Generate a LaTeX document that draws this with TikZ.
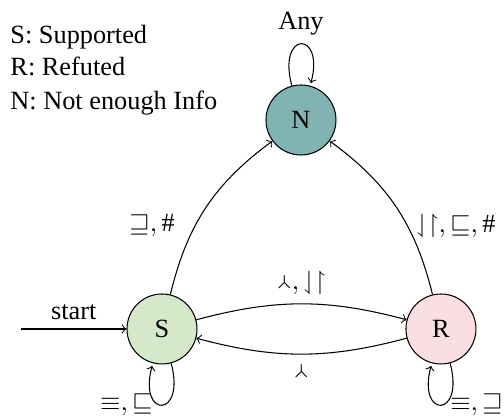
\documentclass[tikz,border=0pt]{standalone}
\usepackage{fontspec}
\setmainfont{Liberation Serif}
\usepackage{amsmath}
\usepackage{amssymb}
\usepackage{stmaryrd}

\definecolor{colS}{RGB}{214,232,202}
\definecolor{colR}{RGB}{250,222,226}
\definecolor{colN}{RGB}{128,179,177}

\newcommand{\negrel}{\Yup}
\newcommand{\altrel}{\downharpoonleft\upharpoonright}

\begin{document}
\begin{tikzpicture}[
  statenode/.style={circle, draw, minimum size=0.935cm, inner sep=0pt},
  legend/.style={anchor=base west, inner sep=0pt}
]
  \useasboundingbox (-2.164,-1.176) rectangle (4.569,4.395);

  % legend
  \node[legend] (legS) at (-2.031,3.817) {S: Supported};
  \node[legend] (legR) at (-2.031,3.380) {R: Refuted};
  \node[legend] (legN) at (-2.031,2.935) {N: Not enough Info};

  % states
  \node[statenode, fill=colS] (S) at (0,0) {S};
  \node[statenode, fill=colR] (R) at (3.727,0) {R};
  \node[statenode, fill=colN] (N) at (1.857,2.792) {N};
  \coordinate (start) at (-1.884,0);

  \draw[->] (start) -- node[above] {start} (S);
  \draw[->] (S) edge[bend left=15] node[above] {$\negrel, \altrel$} (R)
            (R) edge[bend left=15] node[below] {$\negrel$} (S)
            (S) edge[bend left=20] node[left=1.5mm, pos=0.38] {$\sqsupseteq, \#$} (N)
            (R) edge[bend right=20] node[right, pos=0.38] {$\altrel, \sqsubseteq, \#$} (N)
            (N) edge[out=105, in=75, loop] node[above] {Any} ()
            (S) edge[out=-75, in=-105, loop] node[left] {$\equiv, \sqsubseteq$} ()
            (R) edge[out=-75, in=-105, loop] node[right] {$\equiv, \sqsupseteq$} ();
\end{tikzpicture}
\end{document}
